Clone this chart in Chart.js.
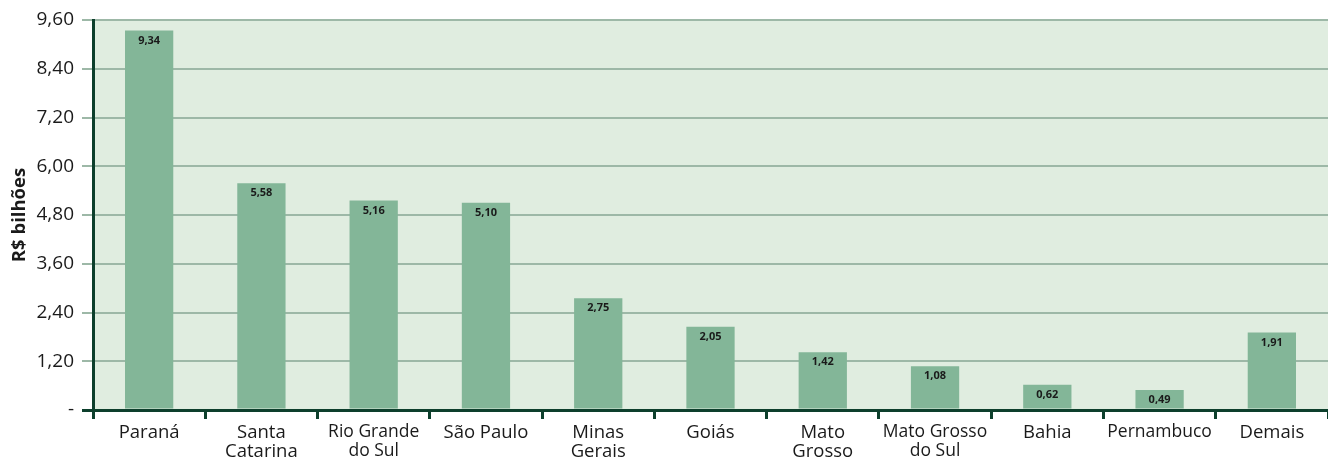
<!DOCTYPE html>
<html>
<head>
<meta charset="utf-8">
<script src="https://cdn.jsdelivr.net/npm/chart.js@4"></script>
<style>
html,body{margin:0;padding:0;background:#fff;}
#wrap{width:1328px;height:459px;position:relative;}
</style>
</head>
<body>
<div id="wrap"><canvas id="c" width="1328" height="459"></canvas></div>
<script>
const categories = [["Paraná"],["Santa","Catarina"],["Rio Grande","do Sul"],["São Paulo"],["Minas","Gerais"],["Goiás"],["Mato","Grosso"],["Mato Grosso","do Sul"],["Bahia"],["Pernambuco"],["Demais"]];
const values = [9.34, 5.58, 5.16, 5.10, 2.75, 2.05, 1.42, 1.08, 0.62, 0.49, 1.91];
const yTicks = [0, 1.2, 2.4, 3.6, 4.8, 6.0, 7.2, 8.4, 9.6];
const yTitle = "R$ bilhões";

const DARK = "#0d3f2c";
const GRID = "#9db8a7";
const BG = "#e0ede0";
const BAR = "#83b698";
const FONT = "'Open Sans', sans-serif";

function fmt(v){ return v.toFixed(2).replace('.', ','); }

const bgPlugin = {
  id: 'bg',
  beforeDraw(chart){
    const {ctx, chartArea:a} = chart;
    ctx.save();
    ctx.fillStyle = BG;
    ctx.fillRect(a.left, a.top, a.right - a.left, a.bottom - a.top);
    ctx.restore();
  }
};
const labelPlugin = {
  id: 'vlabels',
  afterDatasetsDraw(chart){
    const ctx = chart.ctx;
    const meta = chart.getDatasetMeta(0);
    ctx.save();
    ctx.font = "bold 11px " + FONT;
    ctx.fillStyle = "#1a1a1a";
    ctx.textAlign = "center";
    ctx.textBaseline = "middle";
    meta.data.forEach((bar, i) => {
      ctx.fillText(fmt(values[i]), bar.x, bar.y + 10);
    });
    ctx.restore();
  }
};

new Chart(document.getElementById('c'), {
  type: 'bar',
  data: {
    labels: categories,
    datasets: [{ data: values, backgroundColor: BAR, borderWidth: 0, categoryPercentage: 1, barPercentage: 0.43 }]
  },
  options: {
    responsive: false,
    animation: false,
    events: [],
    layout: { padding: { top: 20, right: 0, left: 0, bottom: 0 } },
    plugins: { legend: { display: false }, tooltip: { enabled: false } },
    scales: {
      x: {
        grid: { display: true, drawOnChartArea: false, drawTicks: true, tickLength: 9, color: DARK, lineWidth: 3, offset: true },
        border: { display: true, color: DARK, width: 3 },
        ticks: {
          color: "#1a1a1a",
          padding: 4,
          maxRotation: 0, autoSkip: false,
          font: (ctx) => {
            const i = ctx.index;
            const small = (i === 7 || i === 9 || i === 2);
            return { family: FONT, size: small ? 17.5 : 18.5, lineHeight: 1.05 };
          }
        },
        afterFit(scale){ scale.height = 49; }
      },
      y: {
        min: 0, max: 9.6,
        afterBuildTicks(scale){ scale.ticks = yTicks.map(v => ({value: v})); },
        grid: {
          color: (ctx) => ctx.tick && ctx.tick.value === 0 ? DARK : GRID,
          lineWidth: (ctx) => ctx.tick && ctx.tick.value === 0 ? 3 : 2,
          tickLength: 11, drawTicks: true
        },
        border: { display: true, color: DARK, width: 3 },
        ticks: {
          color: "#1a1a1a",
          padding: 8,
          font: { family: FONT, size: 19 },
          callback: (v) => v === 0 ? "-" : fmt(v)
        },
        title: { display: true, text: yTitle, color: "#1a1a1a", font: { family: FONT, size: 18.5, weight: 'bold' }, padding: { top: 9, bottom: 0 } },
        afterFit(scale){ scale.width = 93; }
      }
    }
  },
  plugins: [bgPlugin, labelPlugin]
});
</script>
</body>
</html>
